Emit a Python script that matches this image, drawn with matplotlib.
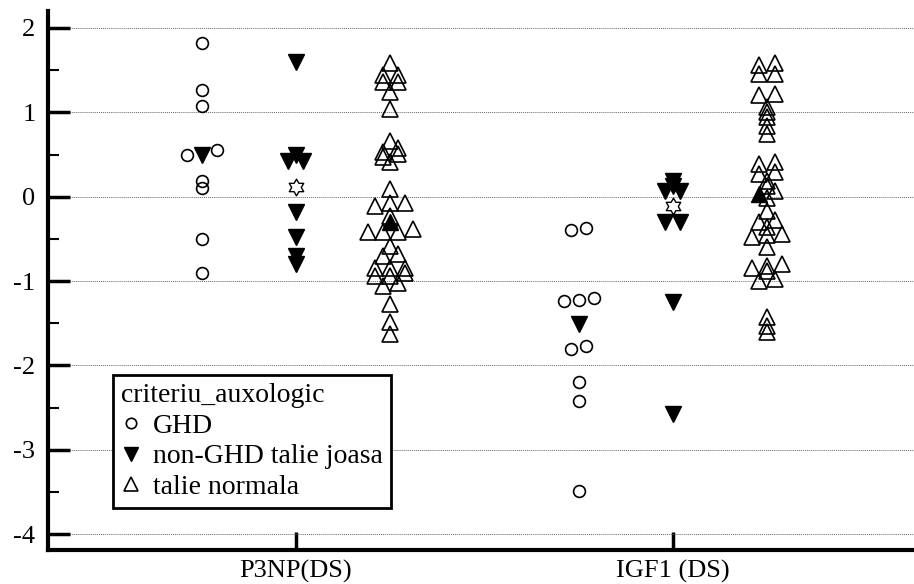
import numpy as np
import matplotlib.pyplot as plt
from matplotlib.lines import Line2D
from matplotlib.path import Path
from matplotlib.ticker import MultipleLocator

plt.rcParams['font.family'] = ['Liberation Serif', 'DejaVu Serif']
plt.rcParams['axes.unicode_minus'] = False

categories = ["P3NP(DS)", "IGF1 (DS)"]
groups = ["GHD", "non-GHD talie joasa", "talie normala"]

# valori (DS)
p3np_ghd = [1.82, 1.26, 1.08, 0.55, 0.50, 0.18, 0.10, -0.50, -0.91]
p3np_nonghd = [1.60, 0.50, 0.42, 0.42, -0.18, -0.48, -0.70, -0.80]
p3np_normal = [1.59, 1.44, 1.44, 1.36, 1.36, 1.24, 1.04,
               0.66, 0.58, 0.53, 0.51, 0.47, 0.41,
               0.09, -0.07, -0.07, -0.11, -0.23, -0.38, -0.42, -0.42, -0.42,
               -0.58, -0.68, -0.70, -0.84, -0.84, -0.84, -0.90, -0.94, -0.94,
               -1.02, -1.06, -1.27, -1.49, -1.63]

igf1_ghd = [-0.37, -0.40, -1.20, -1.22, -1.24, -1.77, -1.81, -2.20, -2.42, -3.49]
igf1_nonghd = [0.19, 0.13, 0.07, 0.07, -0.30, -0.30, -1.25, -2.58]
igf1_normal = [1.58, 1.56, 1.46, 1.46, 1.22, 1.20, 1.06, 1.00, 0.94, 0.84, 0.74,
               0.41, 0.39, 0.29, 0.27, 0.19, 0.13, 0.07, -0.01,
               -0.17, -0.28, -0.30, -0.36, -0.44, -0.46, -0.48, -0.60,
               -0.80, -0.82, -0.84, -0.88, -0.98, -1.00,
               -1.43, -1.53, -1.61]

data = [[p3np_ghd, p3np_nonghd, p3np_normal],
        [igf1_ghd, igf1_nonghd, igf1_normal]]

star = Path.unit_regular_star(6, innerCircle=0.577)


def swarm(vals, med, thr=0.055, step=0.04):
    # puncte apropiate pe verticala -> asezate pe acelasi rand, centrat
    items = sorted([(v, False) for v in vals] + [(med, True)], key=lambda t: -t[0])
    rows = []
    for it in items:
        if rows and rows[-1][0][0] - it[0] <= thr:
            rows[-1].append(it)
        else:
            rows.append([it])
    out = []
    for row in rows:
        pts = sorted([t for t in row if not t[1]], key=lambda t: t[0])
        meds = [t for t in row if t[1]]
        if meds:
            pts.insert(len(pts) // 2, meds[0])
        n = len(pts)
        for i, (v, m) in enumerate(pts):
            out.append(((i - (n - 1) / 2) * step, v, m))
    return out


# stil puncte / mediana pentru fiecare grup
pt_style = [dict(marker='o', ms=8.5, mfc='none', mec='black', mew=1.2),
            dict(marker='v', ms=11, mfc='black', mec='black', mew=1.0),
            dict(marker='^', ms=11, mfc='none', mec='black', mew=1.2)]
med_style = [dict(marker='v', ms=11, mfc='black', mec='black', mew=1.0),
             dict(marker=star, ms=12, mfc='white', mec='black', mew=1.0),
             dict(marker='^', ms=11, mfc='black', mec='black', mew=1.0)]
offsets = [-0.25, 0.0, 0.25]

fig = plt.figure(figsize=(9.14, 5.84), dpi=100)
ax = fig.add_axes([0.0525, 0.058, 0.9475, 0.923])

for ci, cat in enumerate(categories):
    for gi in range(3):
        vals = data[ci][gi]
        med = np.median(vals)
        for dx, v, is_med in swarm(vals, med):
            x = ci + 1 + offsets[gi] + dx
            if is_med:
                ax.plot(x, v, ls='none', zorder=4, **med_style[gi])
            else:
                ax.plot(x, v, ls='none', zorder=3, **pt_style[gi])

ax.set_xlim(0.342, 2.64)
ax.set_ylim(-4.19, 2.2)
ax.set_xticks([1, 2])
ax.set_xticklabels(categories)
ax.set_yticks(range(-4, 3))
ax.yaxis.set_minor_locator(MultipleLocator(0.5))
ax.grid(axis='y', which='major', color='#666666', ls=(0, (1, 1)), lw=0.7, zorder=0)

for s in ['top', 'right']:
    ax.spines[s].set_visible(False)
for s in ['left', 'bottom']:
    ax.spines[s].set_linewidth(3)

ax.tick_params(axis='y', which='major', direction='in', length=16, width=2.5,
               labelsize=19, pad=9)
ax.tick_params(axis='y', which='minor', direction='in', length=8, width=1.5)
ax.tick_params(axis='x', which='major', direction='in', length=13, width=2.5,
               labelsize=19, pad=7)

handles = [Line2D([], [], ls='none', marker='o', ms=7.5, mfc='none', mec='black', mew=1.2),
           Line2D([], [], ls='none', marker='v', ms=9.5, mfc='black', mec='black'),
           Line2D([], [], ls='none', marker='^', ms=9.5, mfc='none', mec='black', mew=1.2)]
leg = ax.legend(handles, groups, title="criteriu_auxologic", loc='lower left',
                bbox_to_anchor=(0.075, 0.078), borderaxespad=0, fontsize=20,
                title_fontsize=20, alignment='left', fancybox=False, framealpha=1,
                edgecolor='black', handlelength=0.7, handletextpad=0.45,
                labelspacing=0.18, borderpad=0.3)
leg.get_frame().set_linewidth(2)

fig.savefig("out.png", dpi=100)
